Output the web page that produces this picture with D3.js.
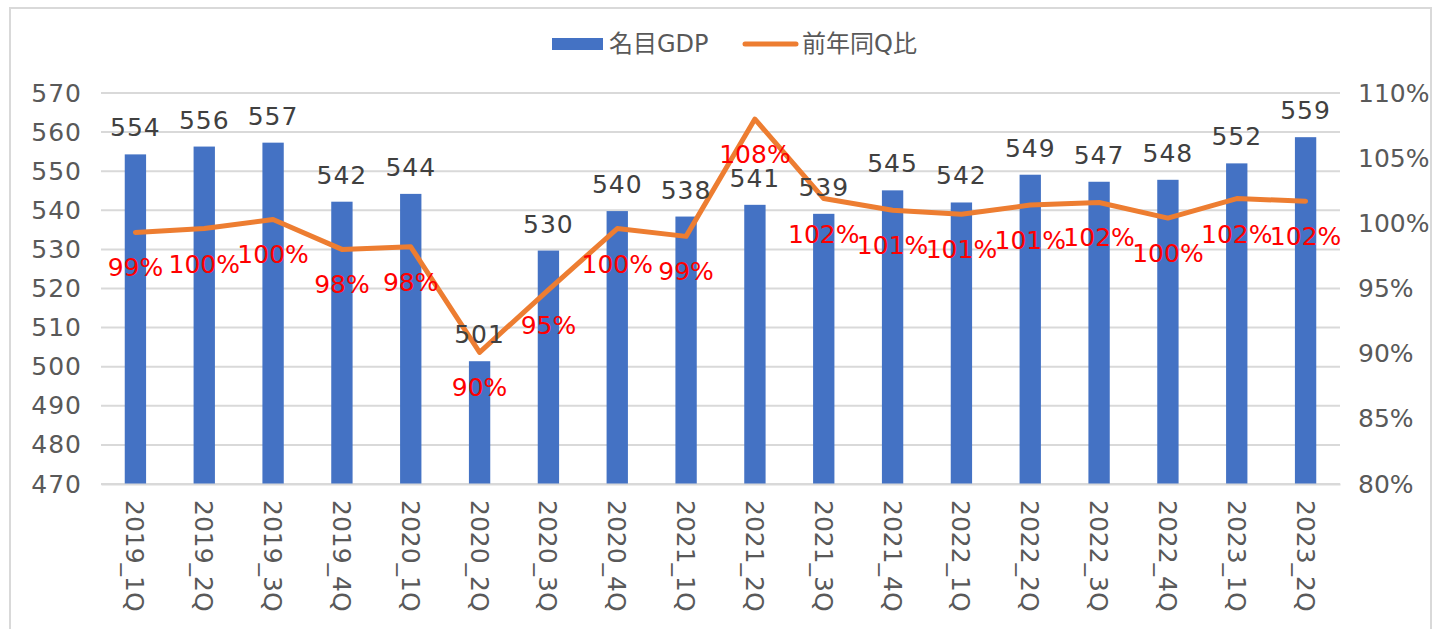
<!DOCTYPE html>
<html><head><meta charset="utf-8">
<script src="https://cdn.jsdelivr.net/npm/d3@7"></script>
<style>
html,body{margin:0;padding:0;background:#fff;}
text{font-family:"DejaVu Sans","Noto Sans CJK JP",sans-serif;}
</style></head>
<body><svg id="chart" width="1434" height="629"></svg>
<script>
const categories = ["2019_1Q","2019_2Q","2019_3Q","2019_4Q","2020_1Q","2020_2Q","2020_3Q","2020_4Q","2021_1Q","2021_2Q","2021_3Q","2021_4Q","2022_1Q","2022_2Q","2022_3Q","2022_4Q","2023_1Q","2023_2Q"];
const gdp = [554.3,556.3,557.3,542.2,544.2,501.4,529.7,539.8,538.4,541.4,539.1,545.1,542.0,549.1,547.3,547.8,552.0,558.7];
const yoy = [99.3,99.6,100.3,98.0,98.2,90.1,94.9,99.6,99.0,108.0,101.9,101.0,100.7,101.4,101.6,100.4,101.9,101.7];
const leftTicks = [470,480,490,500,510,520,530,540,550,560,570];
const rightTicks = [80,85,90,95,100,105,110];
const seriesNames = ["名目GDP","前年同Q比"];

const svg = d3.select("#chart");
const m = {left:101, right:1340, top:93, bottom:484};

svg.append("rect").attr("x",10).attr("y",8).attr("width",1421).attr("height",640)
  .attr("fill","#fff").attr("stroke","#d9d9d9").attr("stroke-width",2);

const x = d3.scaleBand().domain(categories).range([m.left,m.right]).paddingInner(0.69).paddingOuter(0.345);
const yL = d3.scaleLinear().domain([470,570]).range([m.bottom,m.top]);
const yR = d3.scaleLinear().domain([80,110]).range([m.bottom,m.top]);

// gridlines
svg.append("g").selectAll("line").data(leftTicks).join("line")
  .attr("x1",m.left).attr("x2",m.right)
  .attr("y1",d=>yL(d)).attr("y2",d=>yL(d))
  .attr("stroke","#d9d9d9").attr("stroke-width",2);

// left axis
const axL = svg.append("g").attr("transform",`translate(${m.left},0)`)
  .call(d3.axisLeft(yL).tickValues(leftTicks).tickSize(0).tickPadding(19));
axL.select(".domain").remove();
axL.selectAll("text").attr("font-size",25).attr("fill","#595959").attr("letter-spacing","1px")
  .style("font-family","DejaVu Sans");

// right axis
const axR = svg.append("g").attr("transform",`translate(${m.right},0)`)
  .call(d3.axisRight(yR).tickValues(rightTicks).tickSize(0).tickPadding(18).tickFormat(d=>d+"%"));
axR.select(".domain").remove();
axR.selectAll("text").attr("font-size",25).attr("fill","#595959").style("font-family","DejaVu Sans");

// bars
svg.append("g").selectAll("rect").data(categories).join("rect")
  .attr("x",d=>x(d)).attr("width",x.bandwidth())
  .attr("y",(d,i)=>yL(gdp[i])).attr("height",(d,i)=>yL(470)-yL(gdp[i]))
  .attr("fill","#4472C4");

// x axis labels
const xc = d => x(d)+x.bandwidth()/2;
const axX = svg.append("g").attr("transform",`translate(0,${m.bottom})`)
  .call(d3.axisBottom(x).tickSize(0).tickPadding(0));
axX.select(".domain").attr("stroke","#d9d9d9").attr("stroke-width",2);
axX.selectAll(".tick text")
  .attr("font-size",25).attr("fill","#595959")
  .attr("text-anchor","start")
  .attr("transform","translate(0,16) rotate(90)")
  .attr("x",0).attr("y",0).attr("dy","0.36em");

// line
const line = d3.line().x((d,i)=>xc(categories[i])).y(d=>yR(d));
svg.append("path").datum(yoy).attr("d",line)
  .attr("fill","none").attr("stroke","#ED7D31").attr("stroke-width",5)
  .attr("stroke-linejoin","round").attr("stroke-linecap","round");

// bar labels
svg.append("g").selectAll("text").data(categories).join("text")
  .attr("x",d=>xc(d)).attr("y",(d,i)=>yL(gdp[i])-18)
  .attr("text-anchor","middle").attr("font-size",25).attr("fill","#404040").attr("letter-spacing","1px")
  .text((d,i)=>Math.round(gdp[i]));

// line labels
svg.append("g").selectAll("text").data(categories).join("text")
  .attr("x",d=>xc(d)).attr("y",(d,i)=>yR(yoy[i])+44)
  .attr("text-anchor","middle").attr("font-size",25).attr("fill","#FF0000")
  .text((d,i)=>Math.round(yoy[i])+"%");

// legend
const lg = svg.append("g");
lg.append("rect").attr("x",552).attr("y",38).attr("width",51).attr("height",12).attr("fill","#4472C4");
lg.append("text").attr("x",609).attr("y",44).attr("dy","0.35em").attr("font-size",24).attr("fill","#595959").text(seriesNames[0]);
lg.append("line").attr("x1",745).attr("x2",796).attr("y1",44).attr("y2",44)
  .attr("stroke","#ED7D31").attr("stroke-width",5).attr("stroke-linecap","round");
lg.append("text").attr("x",802).attr("y",44).attr("dy","0.35em").attr("font-size",24).attr("fill","#595959").text(seriesNames[1]);
</script></body></html>
